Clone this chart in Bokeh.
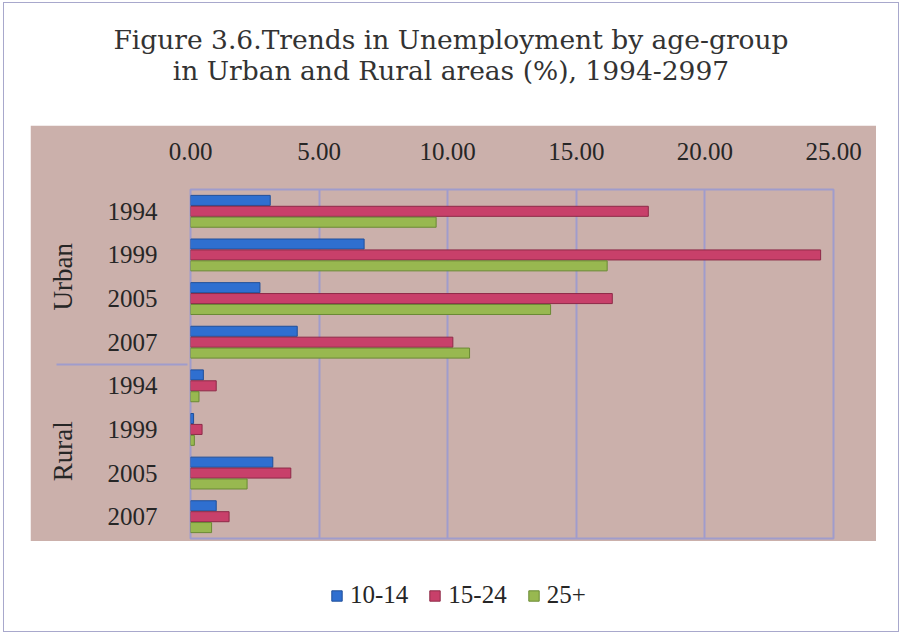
from bokeh.plotting import figure
from bokeh.models import (FactorRange, ColumnDataSource, FixedTicker, NumeralTickFormatter,
                          Legend, LegendItem, Range1d, Div, InlineStyleSheet)
from bokeh.layouts import column
from bokeh.transform import dodge
from bokeh.embed import file_html
from bokeh.resources import INLINE

# ---- data ----
areas = ["Urban", "Urban", "Urban", "Urban", "Rural", "Rural", "Rural", "Rural"]
years = ["1994", "1999", "2005", "2007", "1994", "1999", "2005", "2007"]
series_names = ["10-14", "15-24", "25+"]
v_10_14 = [3.1, 6.75, 2.7, 4.15, 0.5, 0.12, 3.2, 1.0]
v_15_24 = [17.8, 24.5, 16.4, 10.2, 1.0, 0.45, 3.9, 1.5]
v_25_plus = [9.55, 16.2, 14.0, 10.85, 0.33, 0.15, 2.2, 0.82]
x_ticks = [0, 5, 10, 15, 20, 25]
title_lines = ["Figure 3.6.Trends in Unemployment by age-group",
               "in Urban and Rural areas (%), 1994-2997"]

FONT = "Liberation Serif"
TITLE_FONT = "DejaVu Serif"
BG = "#cbb0ab"
GRID = "#a09ccc"
TXT = "#262626"
colors = ["#2f6fd0", "#c8406a", "#98b850"]
edges = ["#1f4f9a", "#8e2a48", "#6a8a34"]

# ---- title ----
title = Div(text="<br>".join(title_lines), width=902, height=125, margin=0,
            styles={"text-align": "center", "font-family": TITLE_FONT, "font-size": "26.5px",
                    "line-height": "31px", "color": "#333333", "padding-top": "24px",
                    "box-sizing": "border-box", "width": "902px"})

# ---- main chart ----
factors = list(zip(areas, years))
src = ColumnDataSource(dict(cat=factors, a=v_10_14, b=v_15_24, c=v_25_plus))
y_range = FactorRange(*list(reversed(factors)), factor_padding=0, group_padding=0, range_padding=0)

p = figure(width=846, height=416, y_range=y_range, x_range=Range1d(0, 25),
           x_axis_location="above", output_backend="svg", toolbar_location=None,
           min_border_left=160, min_border_right=43, min_border_top=64, min_border_bottom=3)
p.margin = (0, 0, 0, 30)
p.background_fill_color = BG
p.border_fill_color = BG
p.outline_line_color = GRID
p.outline_line_width = 2

xa = p.xaxis[0]
xa.ticker = FixedTicker(ticks=x_ticks)
xa.formatter = NumeralTickFormatter(format="0.00")
xa.axis_line_color = None
xa.major_tick_line_color = None
xa.minor_tick_line_color = None
xa.major_label_text_font = FONT
xa.major_label_text_font_size = "25px"
xa.major_label_text_color = TXT
xa.major_label_standoff = 24

ya = p.yaxis[0]
ya.axis_line_color = None
ya.major_tick_line_color = None
ya.minor_tick_line_color = None
ya.separator_line_color = GRID
ya.separator_line_width = 2
ya.major_label_text_font = FONT
ya.major_label_text_font_size = "25px"
ya.major_label_text_color = TXT
ya.major_label_standoff = 27
ya.group_text_font = FONT
ya.group_text_font_size = "27px"
ya.group_text_font_style = "normal"
ya.group_text_color = TXT

p.xgrid.grid_line_color = GRID
p.xgrid.grid_line_width = 2
p.ygrid.grid_line_color = None

offs = [0.25, 0.0, -0.25]
cols = ["a", "b", "c"]
for off, col, c, e in zip(offs, cols, colors, edges):
    p.hbar(y=dodge("cat", off, range=p.y_range), left=0, right=col, height=0.23,
           source=src, fill_color=c, line_color=e, line_width=1)

# ---- legend strip ----
pl = figure(width=902, height=93, x_range=Range1d(0, 1), y_range=Range1d(0, 1),
            x_axis_type=None, y_axis_type=None,
            output_backend="svg", toolbar_location=None,
            min_border_left=0, min_border_right=0, min_border_top=0, min_border_bottom=0)
pl.outline_line_color = None
pl.background_fill_color = "white"
pl.border_fill_color = "white"
lrs = []
for c, e in zip(colors, edges):
    # legend swatches only; the bar itself lies far outside the visible range
    lrs.append(pl.hbar(y=[-50], left=[-51], right=[-50], height=0.1,
                       fill_color=c, line_color=e, line_width=1))
legend = Legend(items=[LegendItem(label=n, renderers=[r]) for n, r in zip(series_names, lrs)],
                orientation="horizontal", location=(170, 25),
                label_text_font=FONT, label_text_font_size="25px", label_text_color=TXT,
                glyph_width=13, glyph_height=13, spacing=20, label_standoff=7,
                padding=0, margin=0, background_fill_alpha=0, border_line_color=None)
pl.add_layout(legend)

layout = column(title, p, pl, spacing=0)
layout.stylesheets = [InlineStyleSheet(css=(
    ":host::after { content: ''; position: absolute; left: 3px; top: 2px; right: 3px; bottom: 2px;"
    " border: 1.5px solid #a8a8cc; pointer-events: none; z-index: 10; }"))]

open("out.html", "w").write(file_html(layout, INLINE))
